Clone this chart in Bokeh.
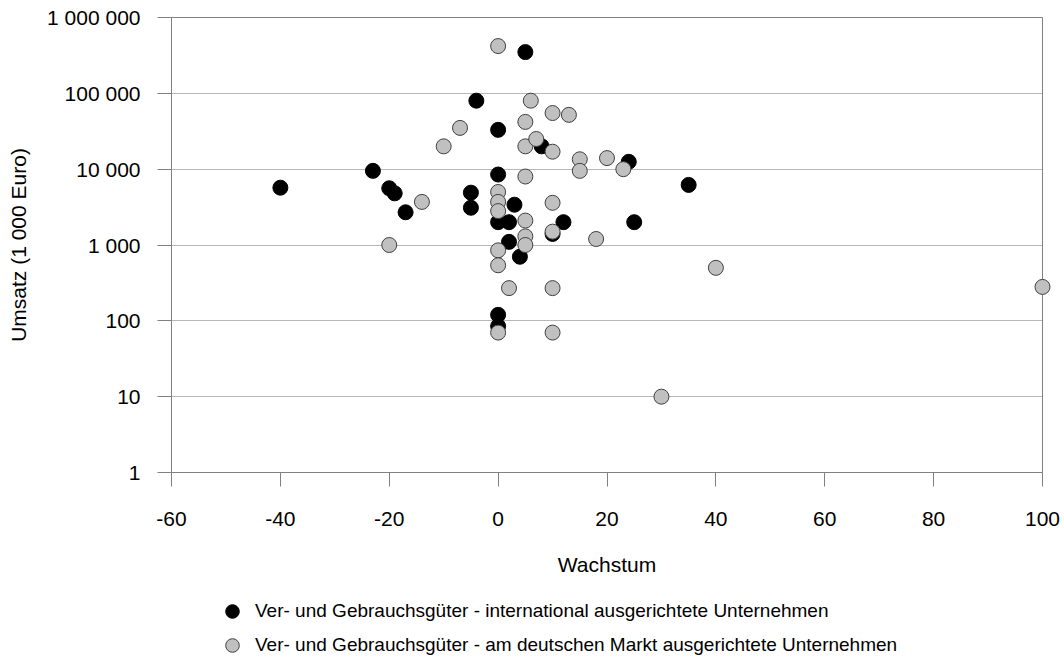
from bokeh.plotting import figure
from bokeh.layouts import column
from bokeh.models import (Range1d, FixedTicker, CustomJSTickFormatter, Legend,
                          LegendItem, ColumnDataSource)
from bokeh.embed import file_html
from bokeh.resources import INLINE

# Wachstum (%) und Umsatz (1 000 Euro), international ausgerichtete Unternehmen
intl_growth = [-40, -23, -20, -19, -17, -5, -5, -4, 0, 0, 0, 0, 0,
               2, 2, 3, 4, 5, 8, 10, 12, 24, 25, 35]
intl_sales = [5700, 9500, 5600, 4800, 2700, 4900, 3100, 80000, 33000, 8500, 2000, 120, 85,
              2000, 1100, 3400, 700, 350000, 20000, 1400, 2000, 12500, 2000, 6200]

# am deutschen Markt ausgerichtete Unternehmen
dom_growth = [-20, -14, -10, -7, 0, 0, 0, 0, 0, 0, 0, 2,
              5, 5, 5, 5, 5, 5, 6, 7, 10, 10, 10, 10, 10, 10,
              13, 15, 15, 18, 20, 23, 30, 40, 100]
dom_sales = [1000, 3700, 20000, 35000, 420000, 5000, 3700, 2800, 850, 540, 70, 270,
             42000, 20000, 8000, 2100, 1300, 1000, 80000, 25000, 55000, 17000, 3600, 1500, 270, 70,
             52000, 13500, 9500, 1200, 14000, 10000, 10, 500, 280]

x_ticks = [-60, -40, -20, 0, 20, 40, 60, 80, 100]
y_ticks = [1, 10, 100, 1000, 10000, 100000, 1000000]

label_intl = "Ver- und Gebrauchsgüter - international ausgerichtete Unternehmen"
label_dom = "Ver- und Gebrauchsgüter - am deutschen Markt ausgerichtete Unternehmen"

FONT = "Liberation Sans"
FONT_SIZE = "21px"
AXIS_COLOR = "#808080"
INTL_STYLE = dict(fill_color="black", line_color="black", line_width=1)
DOM_STYLE = dict(fill_color="#c0c0c0", line_color="#404040", line_width=1)

p = figure(width=1064, height=590,
           x_range=Range1d(-60, 100), y_range=Range1d(1, 1000000),
           y_axis_type="log", output_backend="svg", toolbar_location=None,
           min_border_left=171, min_border_right=22,
           min_border_top=17, min_border_bottom=118)

p.outline_line_color = AXIS_COLOR
p.outline_line_width = 1
p.background_fill_color = "white"
p.border_fill_color = "white"

# axes
p.xaxis.ticker = FixedTicker(ticks=x_ticks)
p.xaxis.formatter = CustomJSTickFormatter(code="return tick.toFixed(0);")
p.yaxis.ticker = FixedTicker(ticks=y_ticks)
p.yaxis.formatter = CustomJSTickFormatter(code="""
    return Math.round(tick).toFixed(0).replace(/\\B(?=(\\d{3})+(?!\\d))/g, " ");
""")
for ax in (p.xaxis, p.yaxis):
    ax.axis_line_color = AXIS_COLOR
    ax.major_tick_line_color = AXIS_COLOR
    ax.major_tick_out = 14
    ax.major_tick_in = 0
    ax.minor_tick_line_color = None
    ax.major_label_text_font = FONT
    ax.major_label_text_font_size = FONT_SIZE
    ax.major_label_text_color = "black"
    ax.axis_label_text_font = FONT
    ax.axis_label_text_font_size = FONT_SIZE
    ax.axis_label_text_font_style = "normal"
    ax.axis_label_text_color = "black"

p.xaxis.axis_label = "Wachstum"
p.yaxis.axis_label = "Umsatz (1 000 Euro)"
p.xaxis.major_label_standoff = 25
p.xaxis.axis_label_standoff = 24
p.yaxis.major_label_standoff = 17
p.yaxis.axis_label_standoff = 14

# grid: dotted horizontal lines only
p.xgrid.visible = False
p.ygrid.grid_line_color = "#707070"
p.ygrid.grid_line_dash = "1 1"
p.ygrid.grid_line_width = 1

src_intl = ColumnDataSource(dict(x=intl_growth, y=intl_sales))
src_dom = ColumnDataSource(dict(x=dom_growth, y=dom_sales))

p.scatter("x", "y", source=src_intl, size=15, level="overlay", **INTL_STYLE)
p.scatter("x", "y", source=src_dom, size=15, level="overlay", **DOM_STYLE)

# legend strip below the chart (its frame lines up with the chart's frame)
leg = figure(width=1064, height=68, x_range=Range1d(0, 1), y_range=Range1d(0, 1),
             output_backend="svg", toolbar_location=None,
             x_axis_location=None, y_axis_location=None,
             min_border_left=171, min_border_right=22,
             min_border_top=0, min_border_bottom=0)
leg.outline_line_color = None
leg.xgrid.visible = False
leg.ygrid.visible = False
# key glyphs sit outside the visible range; only the legend shows them
k_intl = leg.scatter("x", "y", source=ColumnDataSource(dict(x=[-5], y=[-5])), **INTL_STYLE)
k_dom = leg.scatter("x", "y", source=ColumnDataSource(dict(x=[-5], y=[-5])), **DOM_STYLE)

legend = Legend(items=[LegendItem(label=label_intl, renderers=[k_intl]),
                       LegendItem(label=label_dom, renderers=[k_dom])],
                location=(44, -4), orientation="vertical",
                glyph_width=34, glyph_height=34, label_height=33,
                spacing=0, padding=0, margin=0, label_standoff=6,
                border_line_alpha=0, background_fill_alpha=0,
                label_text_font=FONT, label_text_font_size="19px",
                label_text_color="black")
leg.add_layout(legend, "center")

layout = column(p, leg, spacing=0)
open("out.html", "w").write(file_html(layout, INLINE))
